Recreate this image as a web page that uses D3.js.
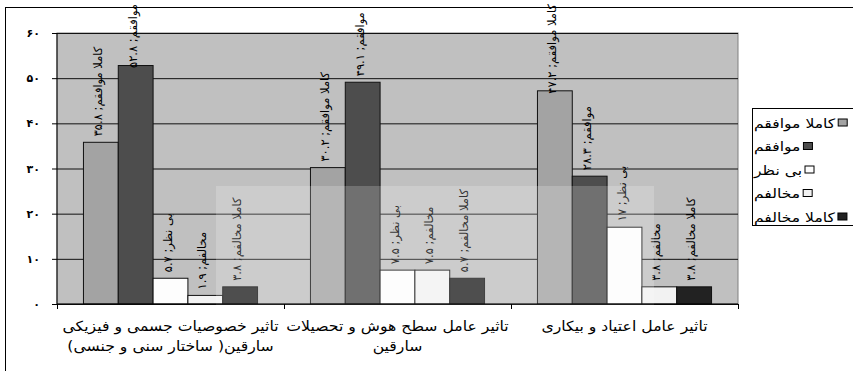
<!DOCTYPE html>
<html>
<head>
<meta charset="utf-8">
<script src="https://cdn.jsdelivr.net/npm/d3@7"></script>
<style>
  body { margin: 0; background: #fff; }
  text { font-family: "DejaVu Sans", sans-serif; }
</style>
</head>
<body>
<svg id="chart" width="853" height="371"></svg>
<script>
// categories (each one split in display lines)
var categories = [
  ["تاثیر خصوصیات جسمی و فیزیکی", "سارقین( ساختار سنی و جنسی)"],
  ["تاثیر عامل سطح هوش و تحصیلات", "سارقین"],
  ["تاثیر عامل اعتیاد و بیکاری"]
];
var seriesNames = ["کاملا موافقم", "موافقم", "بی نظر", "مخالفم", "کاملا مخالفم"];

// values, one array per series
var kamelanMovafegh = [35.8, 30.2, 47.2];
var movafegh = [52.8, 49.1, 28.3];
var biNazar = [5.7, 7.5, 17];
var mokhalef = [1.9, 7.5, 3.8];
var kamelanMokhalef = [3.8, 5.7, 3.8];

var yTicks = [0, 10, 20, 30, 40, 50, 60];

var seriesValues = [kamelanMovafegh, movafegh, biNazar, mokhalef, kamelanMokhalef];
var colors = ["#a3a3a3", "#4d4d4d", "#fdfdfd", "#f2f2f2", "#222222"];

var faDigits = "۰۱۲۳۴۵۶۷۸۹";
function toFa(v) {
  return String(v).replace(/\d/g, function(d) { return faDigits[+d]; });
}

var svg = d3.select("#chart"),
    plot = {left: 57, top: 33, right: 738, bottom: 304};

// outer frame
svg.append("rect")
    .attr("x", 5.5).attr("y", 7.5)
    .attr("width", 900).attr("height", 400)
    .attr("fill", "#fff").attr("stroke", "#000");

var x0 = d3.scaleBand()
    .domain(d3.range(categories.length))
    .range([plot.left, plot.right]);

var x1 = d3.scaleBand()
    .domain(d3.range(seriesNames.length))
    .range([0, x0.bandwidth()])
    .paddingOuter(0.76);

var y = d3.scaleLinear().domain([0, 60]).range([plot.bottom, plot.top]);

// plot background
svg.append("rect")
    .attr("x", plot.left).attr("y", plot.top)
    .attr("width", plot.right - plot.left).attr("height", plot.bottom - plot.top)
    .attr("fill", "#c0c0c0").attr("stroke", "#808080");

// gridlines
svg.append("g")
    .attr("transform", "translate(" + plot.left + ",0)")
    .call(d3.axisLeft(y).tickValues(yTicks).tickSize(-(plot.right - plot.left)).tickFormat(""))
    .call(function(g) {
      g.select(".domain").remove();
      g.selectAll("line").attr("stroke", "#111");
    });

// bars
var groups = svg.append("g").selectAll("g")
  .data(seriesValues)
  .enter().append("g")
    .attr("fill", function(d, i) { return colors[i]; });

groups.selectAll("rect")
  .data(function(d, i) { return d.map(function(v, c) { return {s: i, c: c, v: v}; }); })
  .enter().append("rect")
    .attr("x", function(d) { return x0(d.c) + x1(d.s); })
    .attr("y", function(d) { return y(d.v); })
    .attr("width", x1.bandwidth())
    .attr("height", function(d) { return y(0) - y(d.v); })
    .attr("stroke", "#111")
    .attr("stroke-width", 1);

// watermark wash
svg.append("rect")
    .attr("x", 216).attr("y", 186)
    .attr("width", 438).attr("height", 190)
    .attr("fill", "#fff").attr("opacity", 0.2);

// y axis
svg.append("g")
    .attr("transform", "translate(" + plot.left + ",0)")
    .call(d3.axisLeft(y).tickValues(yTicks).tickSize(5).tickPadding(12).tickFormat(toFa))
    .call(function(g) {
      g.select(".domain").attr("d", "M0," + y(0) + "V" + y(60));
      g.selectAll("text")
        .style("font-size", "11px")
        .style("font-weight", "bold")
        .style("letter-spacing", "3px")
        .attr("fill", "#000");
    });

// x axis: ticks at category boundaries
var xb = d3.scaleLinear().domain([0, categories.length]).range([plot.left, plot.right]);
svg.append("g")
    .attr("transform", "translate(0," + plot.bottom + ")")
    .call(d3.axisBottom(xb).tickValues(d3.range(categories.length + 1)).tickSize(5).tickFormat(""))
    .call(function(g) {
      g.select(".domain").attr("d", "M" + plot.left + ",0H" + plot.right);
    });

// category labels (stretched a bit to match the wide original face)
svg.append("g").selectAll("text")
  .data(categories)
  .enter().append("text")
    .attr("text-anchor", "middle")
    .attr("direction", "rtl")
    .attr("transform", function(d, c) {
      return "translate(" + (x0(c) + x0.bandwidth() / 2) + ",0) scale(1.12,1)";
    })
    .style("font-size", "14px")
    .attr("fill", "#000")
    .each(function(lines) {
      d3.select(this).selectAll("tspan")
        .data(lines)
        .enter().append("tspan")
          .attr("x", 0)
          .attr("y", function(d, k) { return 331 + k * 20; })
          .text(function(d) { return d; });
    });

// data labels, vertical
var labels = groups.selectAll("text")
  .data(function(d, i) { return d.map(function(v, c) { return {s: i, c: c, v: v}; }); })
  .enter().append("text")
    .attr("text-anchor", "start")
    .style("font-size", "11.5px")
    .attr("fill", "#000")
    .text(function(d) { return seriesNames[d.s] + "; " + toFa(d.v); });

labels.each(function(d) {
  var len = this.getComputedTextLength(),
      bottom = y(d.v) - 6;
  if (bottom - len < 4) bottom = 4 + len;
  var cx = x0(d.c) + x1(d.s) + x1.bandwidth() / 2;
  d3.select(this)
    .attr("transform", "translate(" + (cx + 1) + "," + bottom + ") rotate(-90)");
});

// legend
var legend = svg.append("g");
legend.append("rect")
    .attr("x", 752.5).attr("y", 108.5)
    .attr("width", 120).attr("height", 117)
    .attr("fill", "#fff").attr("stroke", "#000");

var stretch = 1.2;
var items = legend.selectAll("g.item")
  .data(seriesNames)
  .enter().append("g")
    .attr("class", "item")
    .attr("transform", function(d, i) { return "translate(754," + (123 + i * 23.5) + ")"; });

items.append("text")
    .attr("dy", "0.35em")
    .attr("transform", "scale(" + stretch + ",1)")
    .style("font-size", "13px")
    .attr("fill", "#000")
    .text(function(d) { return d; });

items.each(function(d, i) {
  var w = d3.select(this).select("text").node().getComputedTextLength() * stretch;
  d3.select(this).append("rect")
      .attr("x", w + 3).attr("y", -4)
      .attr("width", 9).attr("height", 7)
      .attr("fill", colors[i]).attr("stroke", "#000");
});
</script>
</body>
</html>
